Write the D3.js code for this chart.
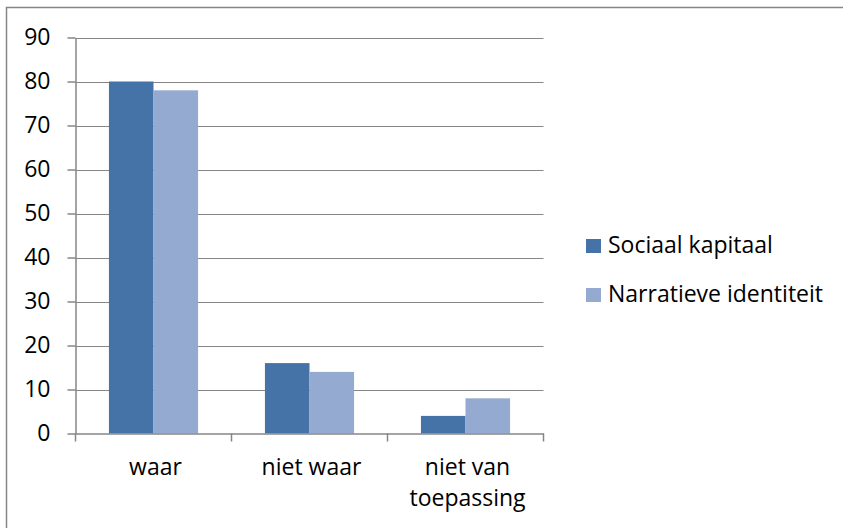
<!DOCTYPE html>
<meta charset="utf-8">
<head>
    <title>Sociaal kapitaal / Narratieve identiteit</title>
    <style>
        body { margin: 0; background: #fff; }
        svg text { font-family: "Open Sans", "Liberation Sans", sans-serif; fill: #000; }
    </style>
</head>
<body>
    <script src="https://cdn.jsdelivr.net/npm/d3@7/dist/d3.min.js"></script>
    <script>
        // chart data
        var categories = [["waar"], ["niet waar"], ["niet van", "toepassing"]];
        var seriesNames = ["Sociaal kapitaal", "Narratieve identiteit"];
        var sociaalKapitaal = [80, 16, 4];
        var narratieveIdentiteit = [78, 14, 8];
        var yTicks = [0, 10, 20, 30, 40, 50, 60, 70, 80, 90];
        var colors = ["#4572a7", "#94aad1"];

        var width = 843, height = 528;
        var plot = { left: 75.5, right: 543.5, top: 37.5, bottom: 433.5 };
        var fontSize = "23px";

        var svg = d3.select("body")
            .append("svg")
            .attr("width", width)
            .attr("height", height);

        // outer frame
        svg.append("rect")
            .attr("x", 6.5).attr("y", 7.5)
            .attr("width", width).attr("height", height)
            .attr("fill", "none")
            .attr("stroke", "#868686")
            .attr("stroke-width", 1.5);

        var keys = categories.map(function (d) { return d.join(" "); });

        var x0 = d3.scaleBand()
            .domain(keys)
            .range([plot.left, plot.right]);

        var x1 = d3.scaleBand()
            .domain(seriesNames)
            .range([0, x0.bandwidth()])
            .paddingOuter(0.75)
            .paddingInner(0);

        var y = d3.scaleLinear()
            .domain([0, 90])
            .range([plot.bottom, plot.top]);

        // gridlines
        svg.append("g")
            .selectAll("line")
            .data(yTicks.slice(1))
            .enter()
            .append("line")
            .attr("x1", plot.left).attr("x2", plot.right)
            .attr("y1", function (d) { return Math.round(y(d)) + 0.5; })
            .attr("y2", function (d) { return Math.round(y(d)) + 0.5; })
            .attr("stroke", "#868686")
            .attr("stroke-width", 1.2);

        // bars
        var rows = keys.map(function (k, i) {
            return [sociaalKapitaal[i], narratieveIdentiteit[i]].map(function (v, j) {
                return { key: k, series: seriesNames[j], value: v, color: colors[j] };
            });
        });

        svg.append("g")
            .selectAll("g")
            .data(rows)
            .enter()
            .append("g")
            .attr("transform", function (d) { return "translate(" + x0(d[0].key) + ",0)"; })
            .selectAll("rect")
            .data(function (d) { return d; })
            .enter()
            .append("rect")
            .attr("x", function (d) { return x1(d.series); })
            .attr("width", x1.bandwidth())
            .attr("y", function (d) { return y(d.value); })
            .attr("height", function (d) { return y(0) - y(d.value); })
            .attr("fill", function (d) { return d.color; });

        // y axis
        var yAxis = svg.append("g")
            .attr("transform", "translate(" + plot.left + ",0)")
            .call(d3.axisLeft(y).tickValues(yTicks).tickSize(8).tickPadding(17).tickSizeOuter(0));

        // x axis
        var xAxis = svg.append("g")
            .attr("transform", "translate(0," + plot.bottom + ")")
            .call(d3.axisBottom(x0).tickValues([]).tickSizeOuter(0));

        xAxis.selectAll(".xtick")
            .data([0, 1, 2, 3])
            .enter()
            .append("line")
            .attr("x1", function (d) { return plot.left + d * x0.step(); })
            .attr("x2", function (d) { return plot.left + d * x0.step(); })
            .attr("y1", 0).attr("y2", 8);

        xAxis.selectAll(".cat")
            .data(categories)
            .enter()
            .append("text")
            .attr("text-anchor", "middle")
            .attr("x", function (d) { return x0(d.join(" ")) + x0.bandwidth() / 2 + 2; })
            .attr("y", 41)
            .style("font-size", fontSize)
            .each(function (d) {
                d3.select(this).selectAll("tspan")
                    .data(d)
                    .enter()
                    .append("tspan")
                    .attr("x", d3.select(this).attr("x"))
                    .attr("dy", function (t, i) { return i === 0 ? 0 : 31; })
                    .text(function (t) { return t; });
            });

        [yAxis, xAxis].forEach(function (a) {
            a.select(".domain").attr("stroke", "#868686").attr("stroke-width", 1.5);
            a.selectAll("line").attr("stroke", "#868686").attr("stroke-width", 1.5);
        });
        yAxis.selectAll("text")
            .style("font-size", fontSize)
            .attr("fill", "#000");
        yAxis.attr("font-family", null).attr("font-size", null);
        xAxis.attr("font-family", null).attr("font-size", null);

        // legend
        var legend = svg.append("g")
            .attr("transform", "translate(586,239)");

        var item = legend.selectAll("g")
            .data(seriesNames)
            .enter()
            .append("g")
            .attr("transform", function (d, i) { return "translate(0," + (i * 49) + ")"; });

        item.append("rect")
            .attr("width", 15).attr("height", 14)
            .attr("fill", function (d, i) { return colors[i]; });

        item.append("text")
            .attr("x", 22)
            .attr("y", 14)
            .style("font-size", fontSize)
            .text(function (d) { return d; });
    </script>
</body>
</html>
